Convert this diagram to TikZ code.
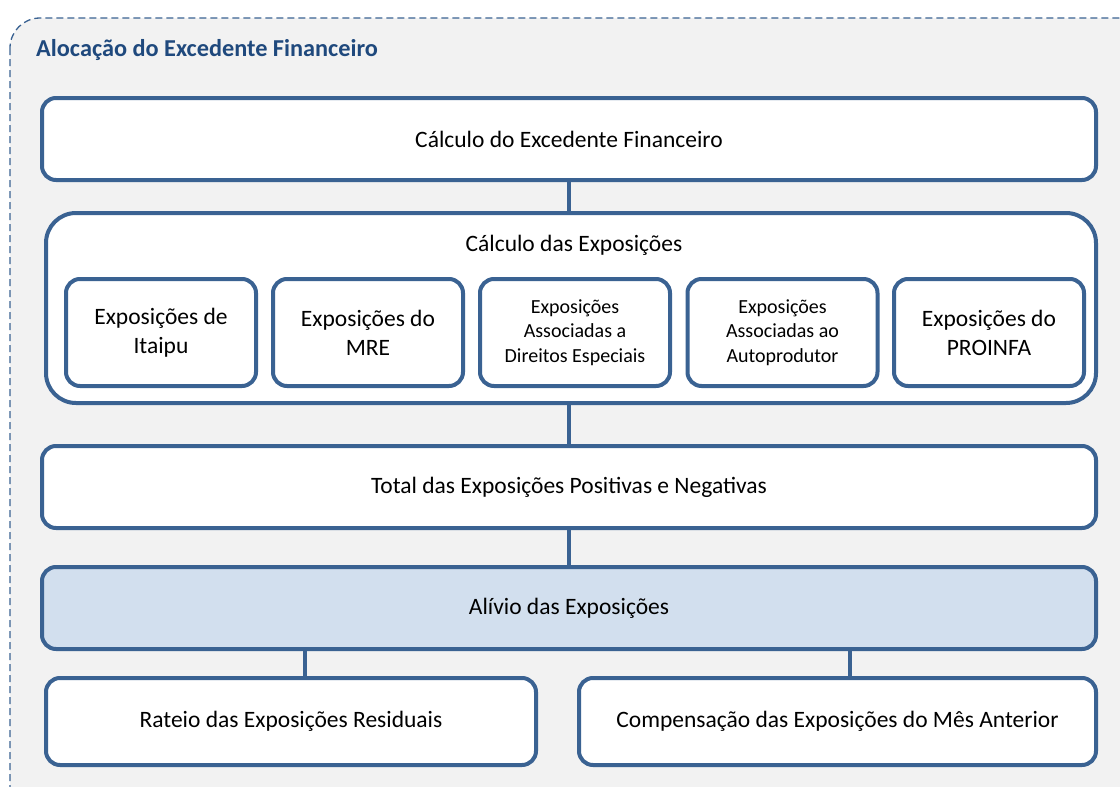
\documentclass[tikz,border=0pt]{standalone}
\usepackage{fontspec}
\setmainfont{Carlito}
\definecolor{boxline}{HTML}{3A6292}
\definecolor{titleblue}{HTML}{1F497D}
\definecolor{bgray}{HTML}{F2F2F2}
\definecolor{lightblue}{HTML}{D2DFEE}
\begin{document}
\begin{tikzpicture}[x=1pt,y=-1pt,
  box/.style={draw=boxline,line width=4pt,rounded corners=14pt,fill=white,inner sep=0pt,align=center,font=\fontsize{23.5}{29}\selectfont},
  smallbox/.style={box,font=\fontsize{20}{24.5}\selectfont},
  conn/.style={draw=boxline,line width=4pt}]
\useasboundingbox (0,0) rectangle (1120,787);
\begin{scope}
\clip (0,0) rectangle (1120,787);
\draw[boxline,line width=1.3pt,dash pattern=on 7pt off 4pt,fill=bgray,rounded corners=30pt] (10,18) rectangle (1150,820);
\end{scope}
\node[anchor=west,font=\bfseries\fontsize{24.3}{28}\selectfont,text=titleblue,inner sep=0pt] (title) at (36,50) {Alocação do Excedente Financeiro};
\node[box,minimum width=1054pt,minimum height=82pt] (calc) at (569,139) {Cálculo do Excedente Financeiro};
\node[box,minimum width=1050pt,minimum height=190pt,rounded corners=30pt] (expo) at (571,308) {};
\node[font=\fontsize{23.5}{28}\selectfont,inner sep=0pt] (expotitle) at (574,245) {Cálculo das Exposições};
\node[box,minimum width=190pt,minimum height=107pt] (itaipu) at (161,332.5) {Exposições de\\Itaipu};
\node[box,minimum width=190pt,minimum height=107pt] (mre) at (368,332.5) {Exposições do\\MRE};
\node[smallbox,minimum width=190pt,minimum height=107pt] (dir) at (575,332.5) {Exposições\\Associadas a\\Direitos Especiais};
\node[smallbox,minimum width=190pt,minimum height=107pt] (auto) at (782.5,332.5) {Exposições\\Associadas ao\\Autoprodutor};
\node[box,minimum width=190pt,minimum height=107pt] (proinfa) at (989,332.5) {Exposições do\\PROINFA};
\node[box,minimum width=1054pt,minimum height=82pt] (total) at (569,487) {Total das Exposições Positivas e Negativas};
\node[box,minimum width=1054pt,minimum height=82pt,fill=lightblue] (alivio) at (569,608) {Alívio das Exposições};
\node[box,minimum width=490pt,minimum height=87pt] (rateio) at (291,721.5) {Rateio das Exposições Residuais};
\node[box,minimum width=517pt,minimum height=87pt] (comp) at (837.5,721.5) {Compensação das Exposições do Mês Anterior};
\draw[conn] (calc.south) -- (calc.south |- expo.north);
\draw[conn] (calc.south |- expo.south) -- (total.north);
\draw[conn] (total.south) -- (alivio.north);
\draw[conn] (alivio.south -| rateio.north) ++(14,0) -- ([xshift=14pt]rateio.north);
\draw[conn] (alivio.south -| comp.north) ++(12.5,0) -- ([xshift=12.5pt]comp.north);
\end{tikzpicture}
\end{document}
